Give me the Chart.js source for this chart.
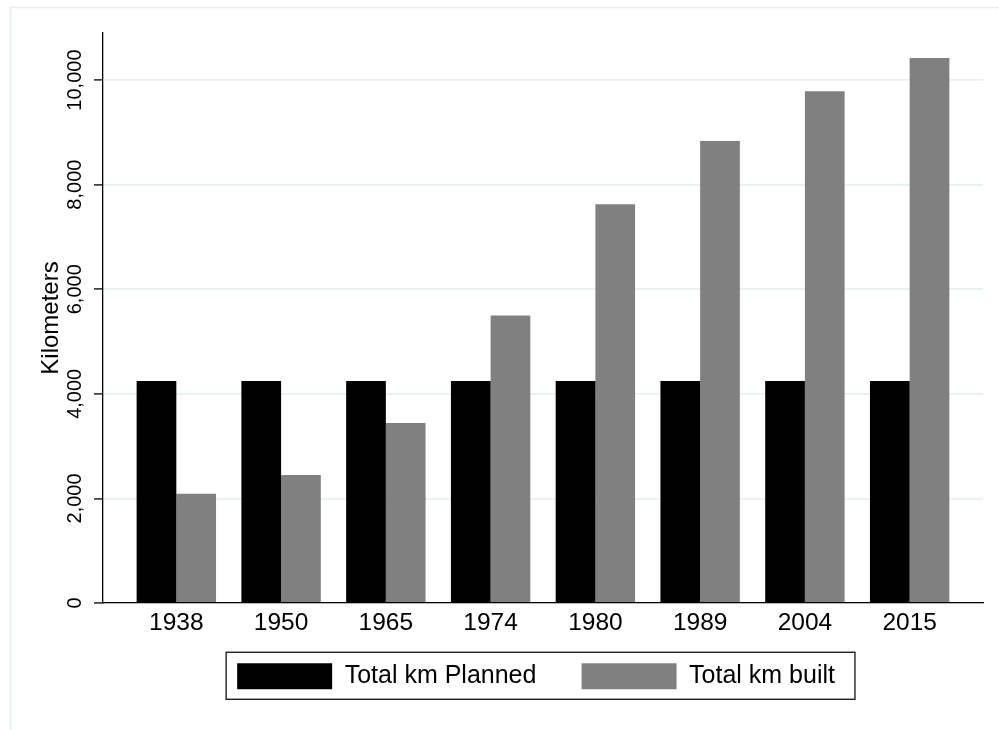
<!DOCTYPE html>
<html>
<head>
<meta charset="utf-8">
<script src="https://cdn.jsdelivr.net/npm/chart.js@4"></script>
<style>
  body { margin: 0; background: #fff; }
  #wrap { width: 999px; height: 730px; }
</style>
</head>
<body>
<div id="wrap"><canvas id="kmChart" width="999" height="730"></canvas></div>
<script>
const years = ['1938', '1950', '1965', '1974', '1980', '1989', '2004', '2015'];
const kmPlanned = [4245, 4245, 4245, 4245, 4245, 4245, 4245, 4245];
const kmBuilt = [2090, 2450, 3440, 5500, 7625, 8835, 9785, 10420];
const yTicks = [0, 2000, 4000, 6000, 8000, 10000];

const fontFamily = '"Liberation Sans", Arial, Helvetica, sans-serif';
const legendFontSize = 25;
// trailing spaces widen the legend items so the gaps match stata's
const legendPad = ['   ', '  '];

Chart.defaults.font.family = fontFamily;
Chart.defaults.color = '#000';

// light frame round the graph region
const regionFrame = {
    id: 'regionFrame',
    beforeDraw: (chart) => {
        const { ctx } = chart;
        ctx.save();
        ctx.strokeStyle = '#e6eef0';
        ctx.lineWidth = 1.5;
        ctx.strokeRect(10.5, 7.5, 1100, 1100);
        ctx.restore();
    }
};

// box round the legend
const legendFrame = {
    id: 'legendFrame',
    afterDraw: (chart) => {
        const legend = chart.legend;
        const boxes = legend.legendHitBoxes;
        if (!boxes || !boxes.length) return;
        const first = boxes[0];
        const last = boxes[boxes.length - 1];
        const lastText = legend.legendItems[boxes.length - 1].text.trimEnd();
        const { ctx } = chart;
        ctx.save();
        ctx.font = `${legendFontSize}px ${fontFamily}`;
        const textEnd = last.left + 95 + legendFontSize / 2 + ctx.measureText(lastText).width;
        ctx.strokeStyle = '#222';
        ctx.lineWidth = 1.4;
        ctx.strokeRect(first.left - 11, first.top - 11, textEnd + 20 - (first.left - 11), 26 + 21);
        ctx.restore();
    }
};

const ctx = document.getElementById('kmChart').getContext('2d');

new Chart(ctx, {
    type: 'bar',
    data: {
        datasets: [{
            label: 'Total km Planned',
            data: kmPlanned.map((v, i) => ({ x: i, y: v })),
            backgroundColor: '#000000',
            borderWidth: 0
        }, {
            label: 'Total km built',
            data: kmBuilt.map((v, i) => ({ x: i, y: v })),
            backgroundColor: '#808080',
            borderWidth: 0
        }]
    },
    options: {
        responsive: false,
        animation: false,
        locale: 'en-US',
        categoryPercentage: 0.758,
        barPercentage: 1,
        layout: {
            padding: { left: 36.6, right: 16, top: 33, bottom: 30.7 }
        },
        plugins: {
            tooltip: { enabled: false },
            legend: {
                position: 'bottom',
                fullSize: false,
                labels: {
                    boxWidth: 95,
                    boxHeight: 26,
                    padding: 24.3,
                    color: '#000',
                    font: { size: legendFontSize },
                    generateLabels: (chart) =>
                        Chart.defaults.plugins.legend.labels.generateLabels(chart)
                            .map((item, i) => ({ ...item, text: item.text + legendPad[i] }))
                }
            }
        },
        scales: {
            x: {
                type: 'linear',
                offset: false,
                min: -0.7,
                max: 7.7,
                afterBuildTicks: (axis) => {
                    axis.ticks = years.map((y, i) => ({ value: i }));
                },
                afterFit: (axis) => { axis.height = 36; },
                grid: { display: false, drawTicks: false },
                border: { color: '#000', width: 1.3 },
                ticks: {
                    padding: 6,
                    autoSkip: false,
                    maxRotation: 0,
                    font: { size: 24.5 },
                    callback: (value) => years[value]
                }
            },
            y: {
                min: 0,
                max: 10900,
                afterBuildTicks: (axis) => {
                    axis.ticks = yTicks.map(v => ({ value: v }));
                },
                afterFit: (axis) => { axis.width = 66.4; },
                grid: {
                    color: '#e8f0f2',
                    lineWidth: 1.8,
                    tickColor: '#000',
                    tickLength: 9,
                    tickWidth: 1.3
                },
                border: { color: '#000', width: 1.3 },
                ticks: {
                    minRotation: 90,
                    maxRotation: 90,
                    crossAlign: 'center',
                    padding: -12,
                    font: { size: 20 }
                },
                title: {
                    display: true,
                    text: 'Kilometers',
                    padding: 0,
                    font: { size: 24 }
                }
            }
        }
    },
    plugins: [regionFrame, legendFrame]
});
</script>
</body>
</html>
